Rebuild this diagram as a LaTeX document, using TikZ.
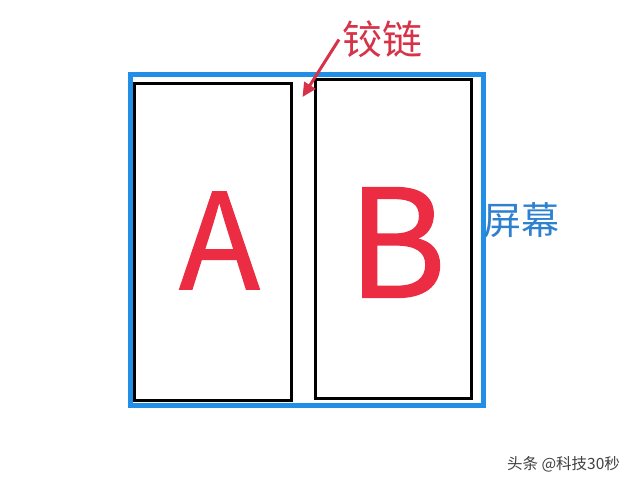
\documentclass[tikz,border=0pt]{standalone}
\usepackage{fontspec}
\setmainfont{Noto Sans CJK SC}
\newfontfamily\letterfont[FakeBold=0.9]{Noto Sans CJK SC}
\usetikzlibrary{arrows.meta}
\definecolor{screenblue}{RGB}{33,142,232}
\definecolor{letterred}{RGB}{236,44,66}
\definecolor{hingered}{RGB}{214,50,72}
\definecolor{labelblue}{RGB}{47,128,206}
\tikzstyle{panel}=[draw,line width=3pt,inner sep=0pt]

\begin{document}
\begin{tikzpicture}[x=1pt,y=-1pt]
\tikzstyle{letter}=[text=letterred,inner sep=0pt]
  \useasboundingbox (0,0) rectangle (640,486);
  \node[draw=screenblue,line width=5pt,minimum width=353pt,minimum height=330pt] (screen) at (306.5,240) {};
  \foreach \place/\name/\w/\h in {{(213,241.75)/panelA/157/316.5},
                                  {(393,238.75)/panelB/156/318.5}}
    \node[panel,minimum width=\w pt,minimum height=\h pt] (\name) at \place {};
  \node[letter,font=\letterfont\fontsize{133}{133}\selectfont] (letterA) at (219.5,240.5) {A};
  \node[letter,font=\letterfont\fontsize{150}{150}\selectfont] (letterB) at (397,242.5) {B};
  \node[text=hingered,font=\fontsize{40}{40}\selectfont] (hinge) at (382.5,39.5) {铰链};
  \coordinate (hingetip) at (302.5,97);
  \draw[hingered,line width=3pt,-{Triangle[length=14pt,width=13pt]}] (hinge.west) -- (hingetip);
  \node[text=labelblue,font=\fontsize{38}{38}\selectfont,inner sep=0pt] (screenlabel) at (521.5,220.5) {屏幕};
  \node[text=black!75,font=\fontsize{15.5}{15.5}\selectfont,inner sep=0pt] (mark) at (563.5,464.5) {头条 @科技30秒};
\end{tikzpicture}
\end{document}
